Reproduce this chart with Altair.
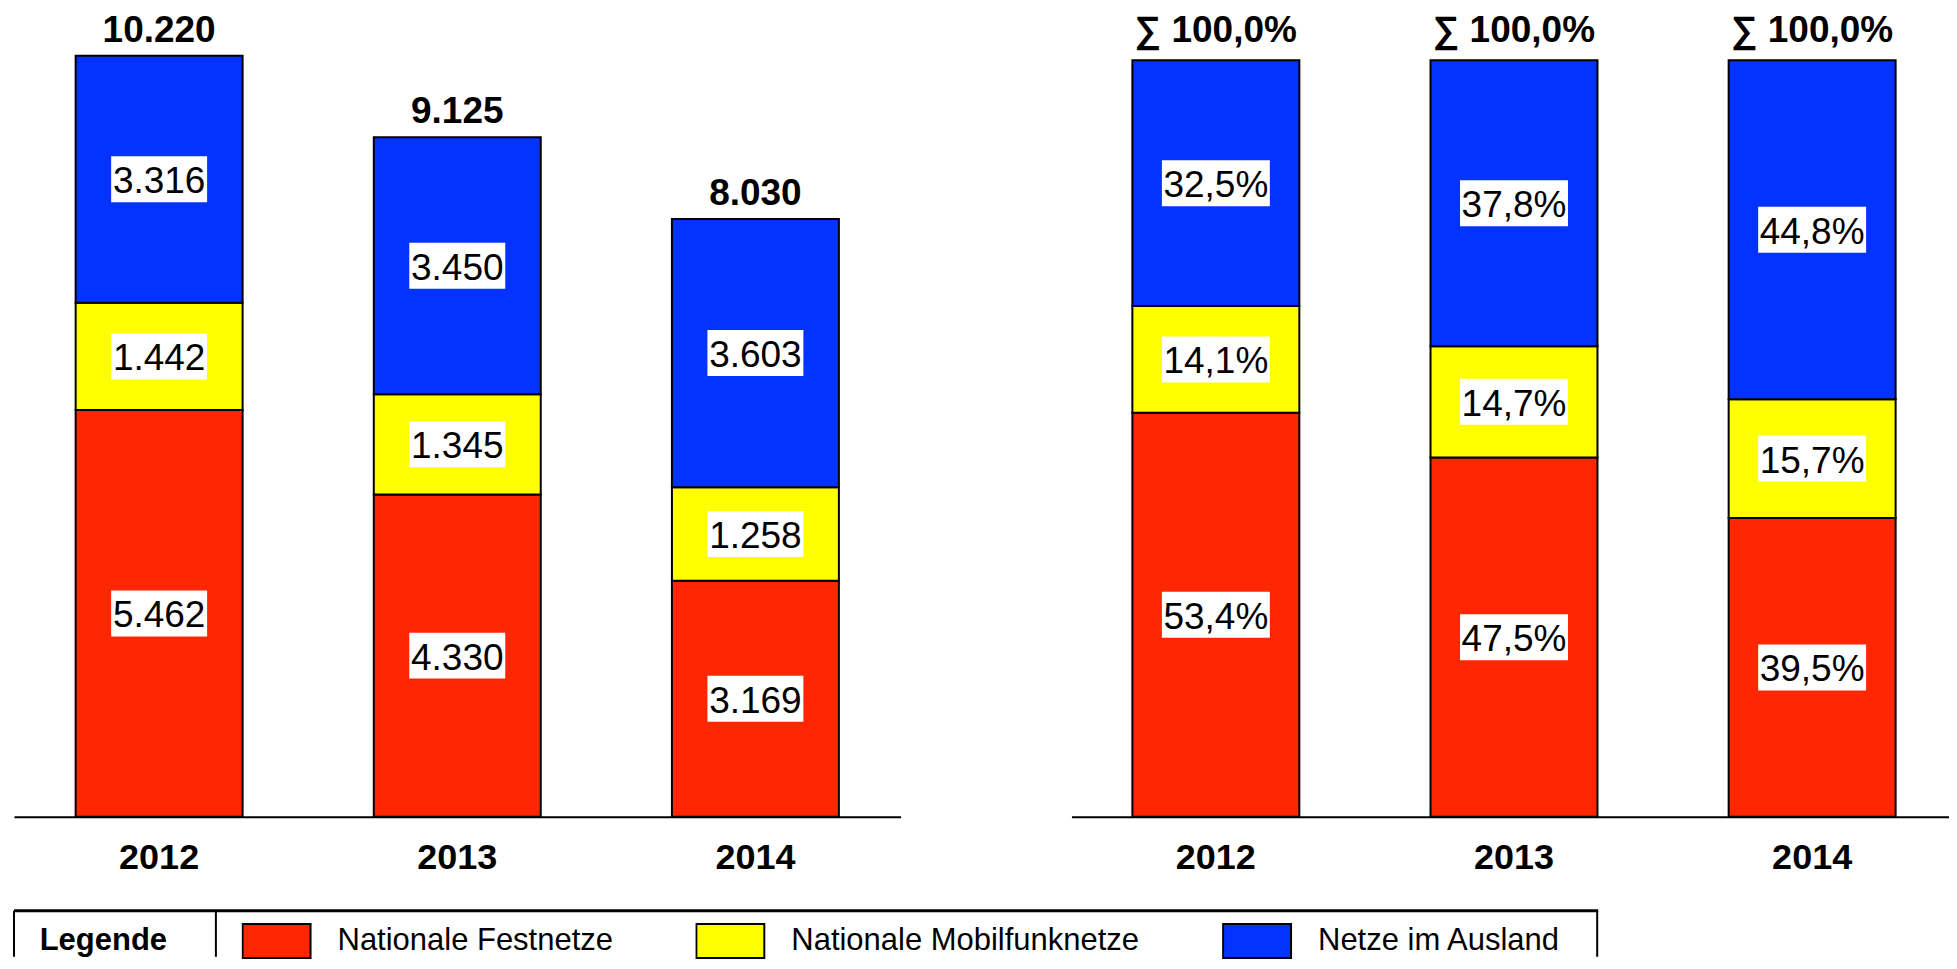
import altair as alt
import pandas as pd

# ---------------- data ----------------
years = ["2012", "2013", "2014"]
series = ["Nationale Festnetze", "Nationale Mobilfunknetze", "Netze im Ausland"]
festnetze = [5462, 4330, 3169]
mobilfunk = [1442, 1345, 1258]
ausland = [3316, 3450, 3603]
pct_festnetze = [53.4, 47.5, 39.5]
pct_mobilfunk = [14.1, 14.7, 15.7]
pct_ausland = [32.5, 37.8, 44.8]
colors = ["#FF2600", "#FFFF00", "#0433FF"]

rows = []
for i, yr in enumerate(years):
    for k, (s, vals, pcts) in enumerate(zip(series,
                                            [festnetze, mobilfunk, ausland],
                                            [pct_festnetze, pct_mobilfunk, pct_ausland])):
        rows.append({"year": yr, "series": s, "order": k, "value": vals[i], "pct": pcts[i]})
df = pd.DataFrame(rows)

FONT = "Liberation Sans"
NOVIEW = alt.ViewBackground(stroke="transparent", strokeWidth=0)
H = 809

legend = alt.Legend(
    title="Legende", orient="none", legendX=25.7, legendY=915.3,
    direction="horizontal", padding=0,
    titleOrient="left", titleAnchor="middle", titleBaseline="middle",
    titlePadding=74, titleFont=FONT, titleFontSize=31, titleFontWeight="bold",
    titleColor="black", titleLimit=0,
    labelFont=FONT, labelFontSize=31, labelColor="black", labelOffset=26,
    labelLimit=0, columnPadding=82,
    symbolType="M-1,-0.5H1V0.5H-1Z", symbolSize=4624,
    symbolStrokeColor="black", symbolStrokeWidth=2, symbolOpacity=1,
    clipHeight=36,
)
color = alt.Color("series:N", scale=alt.Scale(domain=series, range=colors), legend=legend)

xaxis = alt.Axis(title=None, labelAngle=0, labelFont=FONT, labelFontSize=36,
                 labelFontWeight="bold", labelColor="black", labelPadding=24,
                 ticks=False, tickSize=0, domainColor="black", domainWidth=2,
                 grid=False)


def panel(p, field, ydomain, xscale, label_expr, box_size, box_half,
          total_expr, total_dy):
    base = alt.Chart(df)
    x = alt.X("year:N", sort=years, scale=xscale, axis=xaxis)
    yscale = alt.Scale(domain=ydomain, nice=False, zero=True)
    stacked = base.transform_stack(
        stack=field, groupby=["year"], as_=[f"{p}_v0", f"{p}_v1"],
        sort=[alt.SortField("order", order="ascending")]
    ).transform_calculate(
        **{f"{p}_mid": f"(datum.{p}_v0 + datum.{p}_v1) / 2",
           f"{p}_label": label_expr}
    )
    bars = stacked.mark_bar(stroke="black", strokeWidth=2, opacity=1).encode(
        x=x,
        y=alt.Y(f"{p}_v1:Q", scale=yscale, axis=None),
        y2=f"{p}_v0:Q",
        color=color,
    )
    boxes = stacked.mark_point(
        shape=f"M-1,-{box_half}H1V{box_half}H-1Z", size=box_size,
        filled=True, color="white", opacity=1, strokeWidth=0
    ).encode(x=x, y=alt.Y(f"{p}_mid:Q", scale=yscale, axis=None))
    texts = stacked.mark_text(
        font=FONT, fontSize=37, color="black", baseline="middle", dy=3
    ).encode(x=x, y=alt.Y(f"{p}_mid:Q", scale=yscale, axis=None),
             text=f"{p}_label:N")
    totals = base.transform_aggregate(
        **{f"{p}_total": f"sum({field})"}, groupby=["year"]
    ).transform_calculate(**{f"{p}_tlabel": total_expr}).mark_text(
        font=FONT, fontSize=37, fontWeight="bold", color="black",
        baseline="alphabetic", dy=total_dy
    ).encode(x=x, y=alt.Y(f"{p}_total:Q", scale=yscale, axis=None),
             text=f"{p}_tlabel:N")
    return alt.layer(bars, boxes, texts, totals)


left = panel(
    "abs", "value", [0, H / 0.0745],
    alt.Scale(paddingInner=0.44, paddingOuter=0.2068),
    "replace(format(datum.value, ','), ',', '.')", 9216, 0.479,
    "replace(format(datum.abs_total, ','), ',', '.')", -14,
)
right = panel(
    "rel", "pct", [0, H / 7.57],
    alt.Scale(paddingInner=0.44, paddingOuter=0.1917, align=0.533),
    "replace(format(datum.pct, '.1f'), '.', ',') + '%'", 11664, 0.426,
    "'∑ ' + replace(format(datum.rel_total, '.1f'), '.', ',') + '%'", -18,
).properties(width=878, height=H, view=NOVIEW)

# legend frame (decoration)
one = pd.DataFrame({"k": [0]})
ft = 903
fb = 949
frame_top = alt.Chart(one).mark_rule(color="black", strokeWidth=3).encode(
    x=alt.value(0), x2=alt.value(1585), y=alt.value(ft))
frame_left = alt.Chart(one).mark_rule(color="black", strokeWidth=2).encode(
    x=alt.value(0), y=alt.value(ft), y2=alt.value(fb))
frame_right = alt.Chart(one).mark_rule(color="black", strokeWidth=2).encode(
    x=alt.value(1584), y=alt.value(ft), y2=alt.value(fb))
frame_div = alt.Chart(one).mark_rule(color="black", strokeWidth=2).encode(
    x=alt.value(202), y=alt.value(ft), y2=alt.value(fb))

left = alt.layer(left, frame_top, frame_left, frame_right, frame_div).properties(
    width=887, height=H, view=NOVIEW)

chart = alt.hconcat(left, right, spacing=171, bounds="flush").properties(
    padding={"left": 4, "top": 0, "right": 0, "bottom": 0}
).configure_view(stroke="transparent", strokeWidth=0).configure(font=FONT)

chart.save("out.html", embed_options={"renderer": "svg", "actions": False})
